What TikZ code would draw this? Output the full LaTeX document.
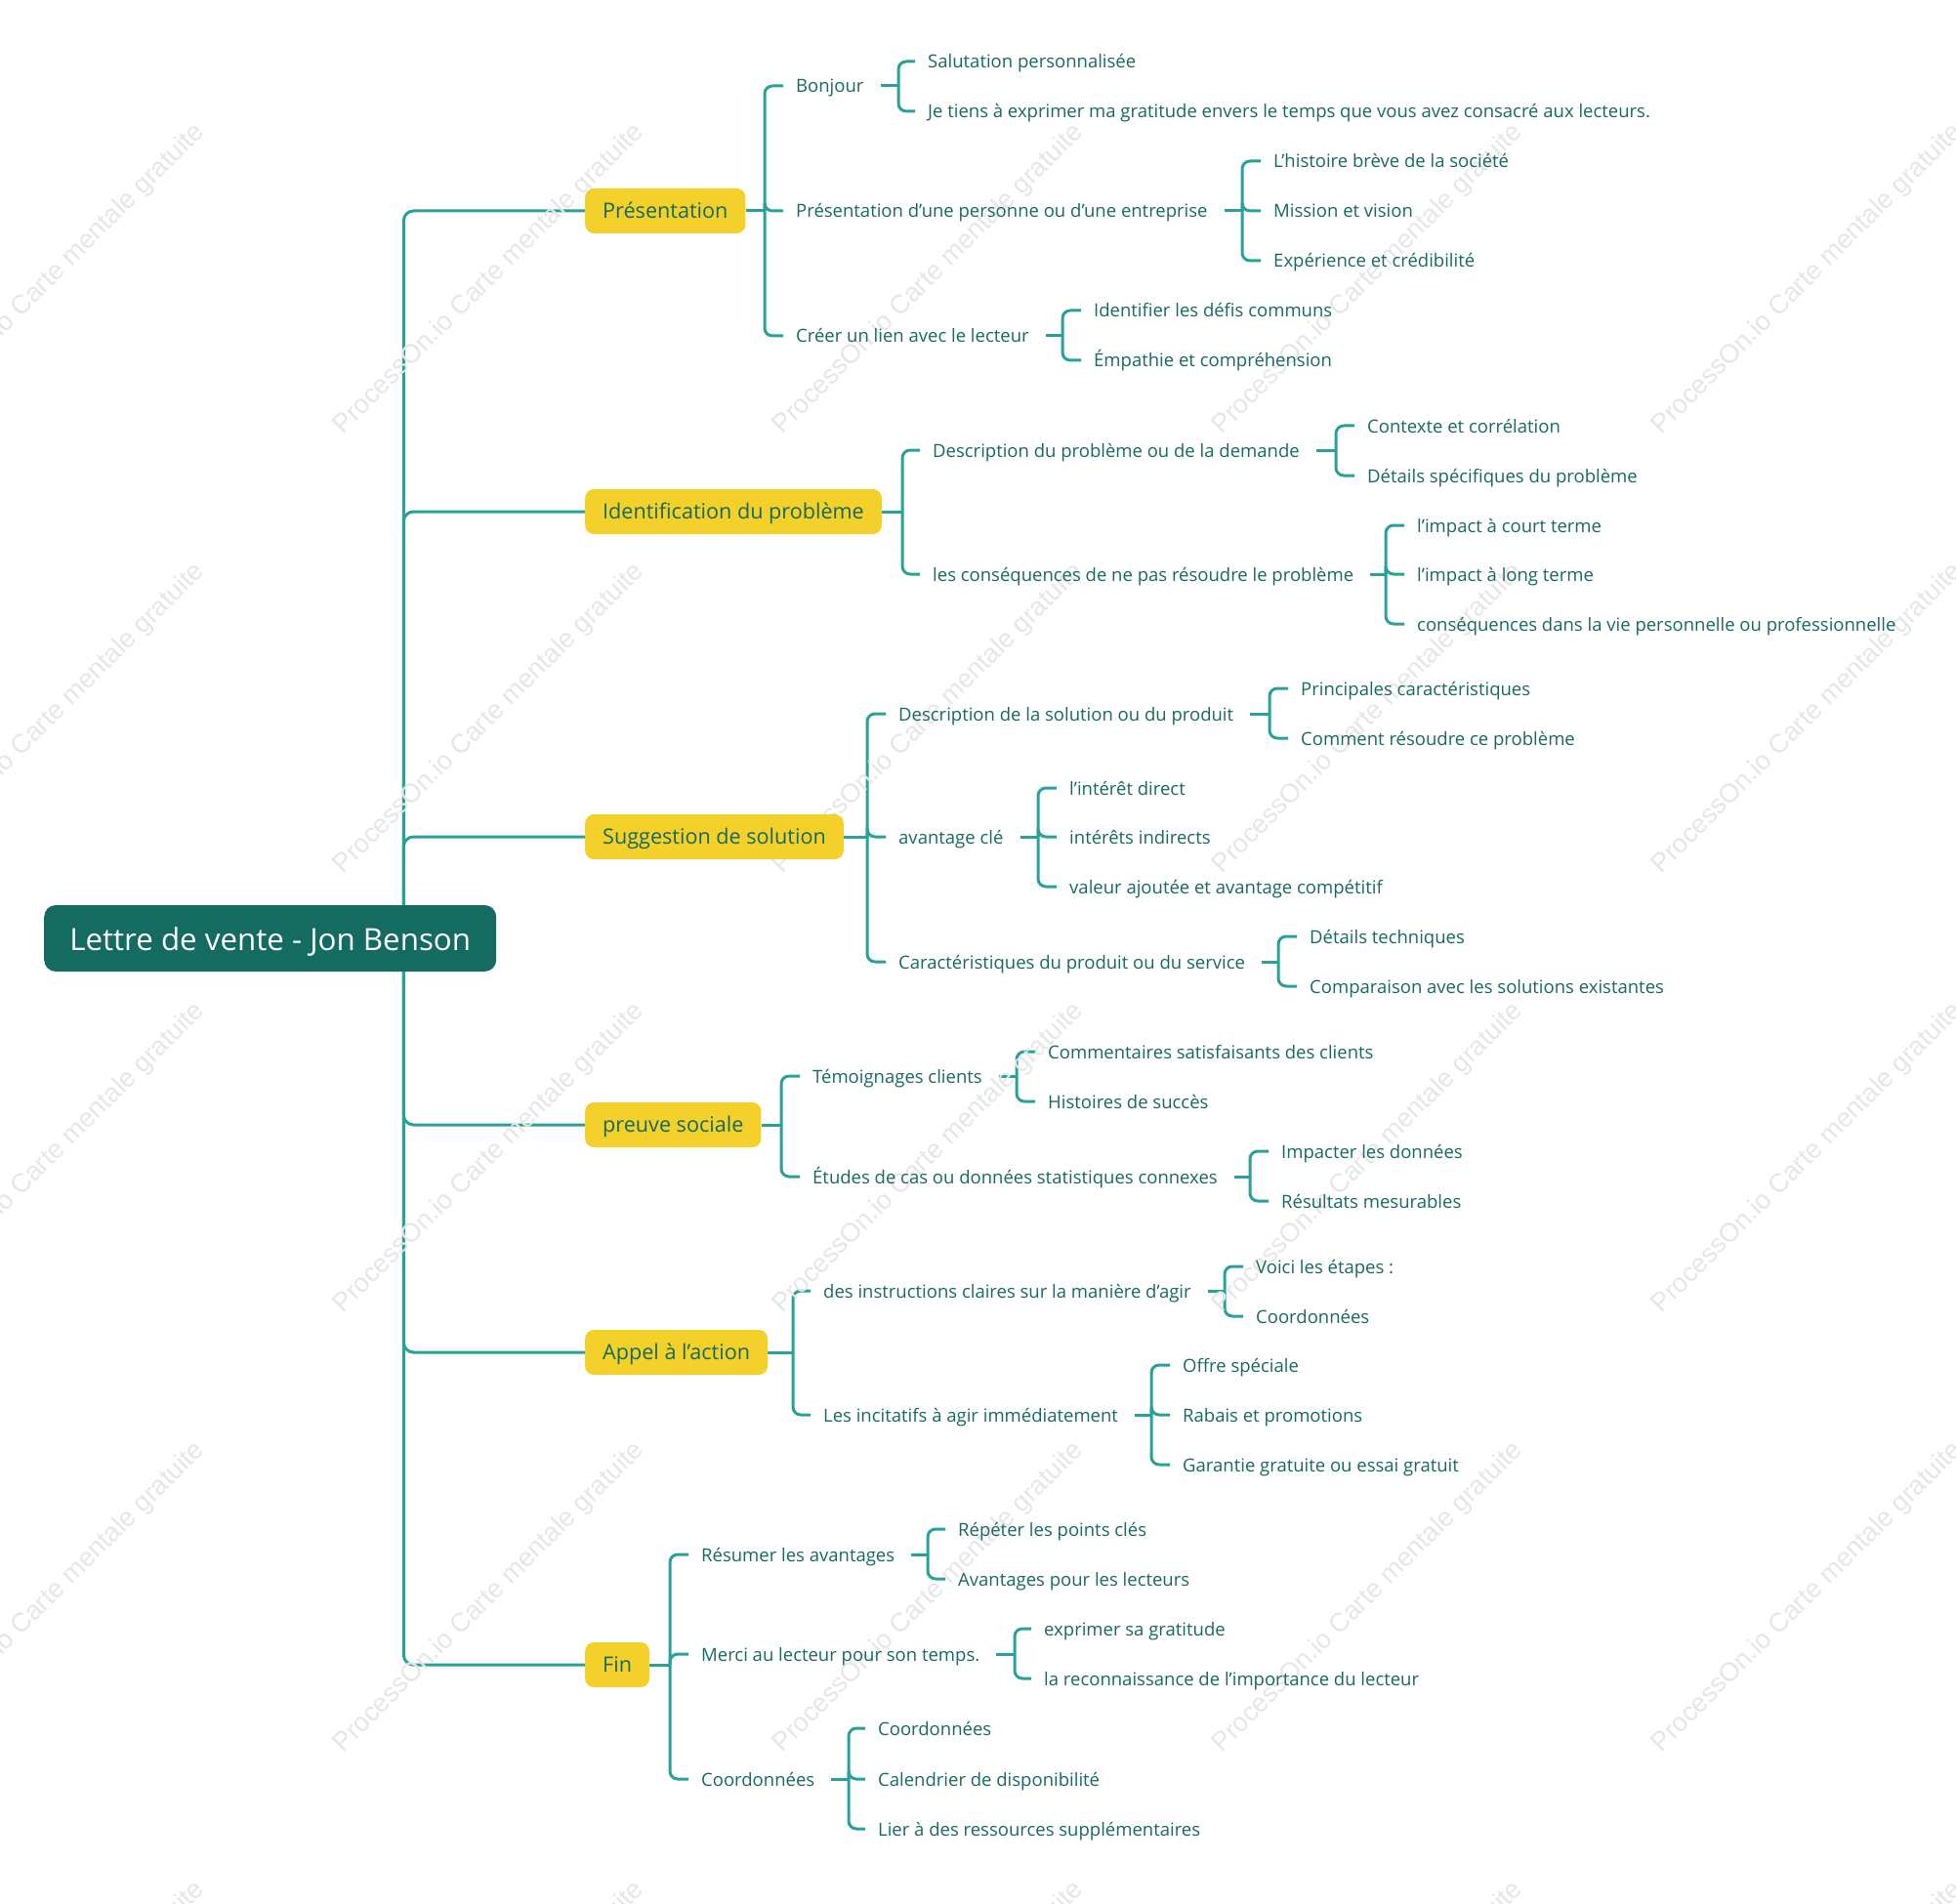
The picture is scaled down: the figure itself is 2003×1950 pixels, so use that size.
\documentclass[tikz,border=0pt]{standalone}
\usepackage{fontspec}
\setmainfont{Open Sans}
\newfontfamily\wmfont{Liberation Sans}
\usetikzlibrary{backgrounds}
\definecolor{txt}{HTML}{17695F}
\definecolor{linec}{HTML}{2AA198}
\definecolor{rootc}{HTML}{136B62}
\definecolor{yel}{HTML}{F3D02A}
\definecolor{wmc}{HTML}{E6E6E6}
\newcommand\forkto[3]{\draw[conn] ([xshift=#3]#1.east) -- (#1.east -| #2,0);}
\newcommand\branchto[3]{\draw[conn] (#1.east -| #2,0) |- ([xshift=-13]#3.west);}
\begin{document}
\begin{tikzpicture}[x=1pt,y=-1pt,
  conn/.style={draw=linec, line width=3pt, rounded corners=8pt},
  leaf/.style={anchor=west, inner sep=0pt, text=txt, font=\fontsize{18.5}{21}\selectfont, text height=16pt, text depth=2pt},
  topic/.style={anchor=west, fill=yel, rounded corners=9pt, text=txt, font=\fontsize{21.6}{24}\selectfont, inner xsep=18pt, inner ysep=0pt, minimum height=46pt, text height=18pt, text depth=3pt},
  rootn/.style={anchor=west, fill=rootc, rounded corners=12pt, text=white, font=\fontsize{31.3}{36}\selectfont, minimum width=463pt, minimum height=68pt, inner sep=0pt, text height=27pt, text depth=3pt},
  wm/.style={rotate=45, text=wmc, font=\wmfont\fontsize{27}{30}\selectfont, inner sep=0pt}]
\useasboundingbox (0,0) rectangle (2003,1950);
% watermarks
\begin{scope}
\clip (0,0) rectangle (2003,1950);
\foreach \wx in {51,501,951,1401,1851}{
  \foreach \wy in {286,736,1186,1636,2086}{
    \node[wm] (w-\wx-\wy) at (\wx,\wy) {ProcessOn.io Carte mentale gratuite};
  }
}
\end{scope}
% root
\node[rootn] (R) at (45,961) {Lettre de vente - Jon Benson};
% level 1
\node[topic] (A) at (599,216) {Présentation};
\node[topic] (B) at (599,524) {Identification du problème};
\node[topic] (C) at (599,857) {Suggestion de solution};
\node[topic] (D) at (599,1152) {preuve sociale};
\node[topic] (E) at (599,1385) {Appel à l'action};
\node[topic] (F) at (599,1705) {Fin};
% A
\node[leaf] (A1) at (815,88) {Bonjour};
\node[leaf] (A2) at (815,216) {Présentation d'une personne ou d'une entreprise};
\node[leaf] (A3) at (815,344) {Créer un lien avec le lecteur};
\node[leaf] (A11) at (950,63) {Salutation personnalisée};
\node[leaf] (A12) at (950,114) {Je tiens à exprimer ma gratitude envers le temps que vous avez consacré aux lecteurs.};
\node[leaf] (A21) at (1304,165) {L'histoire brève de la société};
\node[leaf] (A22) at (1304,216) {Mission et vision};
\node[leaf] (A23) at (1304,267) {Expérience et crédibilité};
\node[leaf] (A31) at (1120,318) {Identifier les défis communs};
\node[leaf] (A32) at (1120,369) {Émpathie et compréhension};
% B
\node[leaf] (B1) at (955,461) {Description du problème ou de la demande};
\node[leaf] (B2) at (955,588) {les conséquences de ne pas résoudre le problème};
\node[leaf] (B11) at (1400,436) {Contexte et corrélation};
\node[leaf] (B12) at (1400,487) {Détails spécifiques du problème};
\node[leaf] (B21) at (1451,538) {l'impact à court terme};
\node[leaf] (B22) at (1451,588) {l'impact à long terme};
\node[leaf] (B23) at (1451,639) {conséquences dans la vie personnelle ou professionnelle};
% C
\node[leaf] (C1) at (920,731) {Description de la solution ou du produit};
\node[leaf] (C2) at (920,857) {avantage clé};
\node[leaf] (C3) at (920,985) {Caractéristiques du produit ou du service};
\node[leaf] (C11) at (1332,705) {Principales caractéristiques};
\node[leaf] (C12) at (1332,756) {Comment résoudre ce problème};
\node[leaf] (C21) at (1095,807) {l'intérêt direct};
\node[leaf] (C22) at (1095,857) {intérêts indirects};
\node[leaf] (C23) at (1095,908) {valeur ajoutée et avantage compétitif};
\node[leaf] (C31) at (1341,959) {Détails techniques};
\node[leaf] (C32) at (1341,1010) {Comparaison avec les solutions existantes};
% D
\node[leaf] (D1) at (832,1102) {Témoignages clients};
\node[leaf] (D2) at (832,1205) {Études de cas ou données statistiques connexes};
\node[leaf] (D11) at (1073,1077) {Commentaires satisfaisants des clients};
\node[leaf] (D12) at (1073,1128) {Histoires de succès};
\node[leaf] (D21) at (1312,1179) {Impacter les données};
\node[leaf] (D22) at (1312,1230) {Résultats mesurables};
% E
\node[leaf] (E1) at (843,1322) {des instructions claires sur la manière d'agir};
\node[leaf] (E2) at (843,1449) {Les incitatifs à agir immédiatement};
\node[leaf] (E11) at (1286,1297) {Voici les étapes :};
\node[leaf] (E12) at (1286,1348) {Coordonnées};
\node[leaf] (E21) at (1211,1398) {Offre spéciale};
\node[leaf] (E22) at (1211,1449) {Rabais et promotions};
\node[leaf] (E23) at (1211,1500) {Garantie gratuite ou essai gratuit};
% F
\node[leaf] (F1) at (718,1592) {Résumer les avantages};
\node[leaf] (F2) at (718,1694) {Merci au lecteur pour son temps.};
\node[leaf] (F3) at (718,1822) {Coordonnées};
\node[leaf] (F11) at (981,1566) {Répéter les points clés};
\node[leaf] (F12) at (981,1617) {Avantages pour les lecteurs};
\node[leaf] (F21) at (1069,1668) {exprimer sa gratitude};
\node[leaf] (F22) at (1069,1719) {la reconnaissance de l'importance du lecteur};
\node[leaf] (F31) at (899,1770) {Coordonnées};
\node[leaf] (F32) at (899,1822) {Calendrier de disponibilité};
\node[leaf] (F33) at (899,1873) {Lier à des ressources supplémentaires};
\coordinate (T) at ([xshift=-95]R.east);
\begin{pgfonlayer}{background}
% trunk
\foreach \n in {A,B,C,D,E,F}{\draw[conn, rounded corners=10pt] (T) |- (\n.west);}
% level 1 forks
\forkto{A}{783}{0}
\foreach \c in {A1,A2,A3}{\branchto{A}{783}{\c}}
\forkto{B}{924}{0}
\foreach \c in {B1,B2}{\branchto{B}{924}{\c}}
\forkto{C}{888}{0}
\foreach \c in {C1,C2,C3}{\branchto{C}{888}{\c}}
\forkto{D}{800}{0}
\foreach \c in {D1,D2}{\branchto{D}{800}{\c}}
\forkto{E}{812}{0}
\foreach \c in {E1,E2}{\branchto{E}{812}{\c}}
\forkto{F}{686}{0}
\foreach \c in {F1,F2,F3}{\branchto{F}{686}{\c}}
% level 2 forks
\forkto{A1}{920}{17}
\foreach \c in {A11,A12}{\branchto{A1}{920}{\c}}
\forkto{A2}{1272}{17}
\foreach \c in {A21,A22,A23}{\branchto{A2}{1272}{\c}}
\forkto{A3}{1088}{17}
\foreach \c in {A31,A32}{\branchto{A3}{1088}{\c}}
\forkto{B1}{1368}{17}
\foreach \c in {B11,B12}{\branchto{B1}{1368}{\c}}
\forkto{B2}{1419}{17}
\foreach \c in {B21,B22,B23}{\branchto{B2}{1419}{\c}}
\forkto{C1}{1300}{17}
\foreach \c in {C11,C12}{\branchto{C1}{1300}{\c}}
\forkto{C2}{1063}{17}
\foreach \c in {C21,C22,C23}{\branchto{C2}{1063}{\c}}
\forkto{C3}{1309}{17}
\foreach \c in {C31,C32}{\branchto{C3}{1309}{\c}}
\forkto{D1}{1041}{17}
\foreach \c in {D11,D12}{\branchto{D1}{1041}{\c}}
\forkto{D2}{1280}{17}
\foreach \c in {D21,D22}{\branchto{D2}{1280}{\c}}
\forkto{E1}{1254}{17}
\foreach \c in {E11,E12}{\branchto{E1}{1254}{\c}}
\forkto{E2}{1179}{17}
\foreach \c in {E21,E22,E23}{\branchto{E2}{1179}{\c}}
\forkto{F1}{950}{17}
\foreach \c in {F11,F12}{\branchto{F1}{950}{\c}}
\forkto{F2}{1039}{17}
\foreach \c in {F21,F22}{\branchto{F2}{1039}{\c}}
\forkto{F3}{869}{17}
\foreach \c in {F31,F32,F33}{\branchto{F3}{869}{\c}}
\end{pgfonlayer}
\end{tikzpicture}
\end{document}
